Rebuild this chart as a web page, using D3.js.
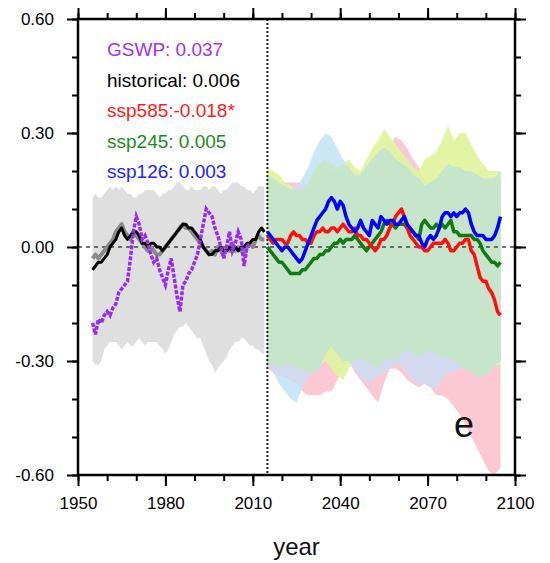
<!DOCTYPE html>
<html>
<head>
<meta charset="utf-8">
<script src="https://cdnjs.cloudflare.com/ajax/libs/d3/7.8.5/d3.min.js"></script>
<style>
body { margin: 0; background: #fff; }
svg { display: block; font-family: "Liberation Sans", Arial, Helvetica, sans-serif; }
</style>
</head>
<body>
<div id="chart"></div>
<script>
// ---- data ----
var histYears = d3.range(1955, 2015);
var gswpYears = d3.range(1955, 2010);
var futYears = d3.range(2015, 2096);
var bandYears = d3.range(2015, 2096, 2);

var gswp = [-0.20,-0.23,-0.19,-0.20,-0.18,-0.17,-0.18,-0.16,-0.15,-0.12,
  -0.11,-0.10,-0.09,-0.03,0.04,0.08,0.06,0.02,0.03,0.01,
  -0.02,-0.04,-0.03,-0.06,-0.08,-0.10,-0.06,-0.03,-0.08,-0.13,
  -0.17,-0.10,-0.09,-0.07,-0.06,-0.04,-0.02,0.02,0.06,0.10,
  0.09,0.08,0.05,0.03,0.00,-0.03,0.00,0.04,-0.01,0.01,
  0.04,0.02,-0.05,0.00,0.01];

var historical = [-0.06,-0.05,-0.04,-0.04,-0.03,-0.02,0.00,0.01,0.02,0.04,
  0.05,0.03,0.02,0.03,0.04,0.04,0.03,0.01,0.01,0.00,
  0.01,0.01,0.00,0.00,-0.01,0.00,0.01,0.02,0.03,0.04,
  0.05,0.06,0.06,0.05,0.05,0.04,0.03,0.02,0.00,-0.01,
  -0.02,-0.02,-0.01,-0.01,0.00,-0.01,-0.01,0.00,-0.01,0.00,
  -0.01,0.00,0.00,0.01,0.01,0.02,0.02,0.04,0.05,0.04];

var historicalGrey = [-0.03,-0.02,-0.03,-0.02,-0.01,0.00,0.01,0.02,0.04,0.05,
  0.06,0.04,0.03,0.02,0.04,0.03,0.02,0.01,0.00,-0.01,
  0.00,-0.01,-0.02,-0.02,-0.01,0.00,0.01,0.02,0.03,0.04,
  0.05,0.06,0.05,0.05,0.04,0.03,0.02,0.01,0.00,-0.01,
  -0.02,-0.01,-0.02,0.00,-0.01,-0.02,0.00,-0.01,0.01,-0.01,
  0.00,-0.01,-0.02,0.00,0.01,0.00,0.02,0.03,0.02,0.02];

var histTop = [0.13,0.14,0.13,0.13,0.14,0.15,0.16,0.15,0.16,0.15,
  0.16,0.15,0.14,0.14,0.13,0.13,0.14,0.14,0.15,0.15,
  0.15,0.15,0.14,0.13,0.14,0.14,0.15,0.15,0.16,0.17,
  0.17,0.16,0.15,0.15,0.16,0.15,0.15,0.15,0.16,0.16,
  0.15,0.16,0.16,0.15,0.14,0.15,0.15,0.16,0.17,0.17,
  0.17,0.16,0.16,0.15,0.15,0.14,0.15,0.16,0.16,0.16];

var histBottom = [-0.30,-0.31,-0.31,-0.30,-0.27,-0.26,-0.25,-0.25,-0.25,-0.26,
  -0.27,-0.26,-0.25,-0.26,-0.26,-0.25,-0.24,-0.25,-0.26,-0.25,
  -0.25,-0.25,-0.25,-0.26,-0.27,-0.28,-0.27,-0.25,-0.23,-0.22,
  -0.21,-0.21,-0.20,-0.21,-0.22,-0.23,-0.24,-0.24,-0.26,-0.28,
  -0.30,-0.31,-0.33,-0.32,-0.31,-0.30,-0.29,-0.27,-0.26,-0.25,
  -0.25,-0.24,-0.24,-0.25,-0.26,-0.26,-0.27,-0.27,-0.28,-0.28];

var ssp585 = [0.03,0.02,0.01,0.02,0.02,0.02,0.01,0.01,0.03,0.04,
  0.03,0.03,0.02,0.02,0.01,0.01,0.03,0.04,0.04,0.05,
  0.04,0.04,0.05,0.05,0.04,0.05,0.06,0.05,0.04,0.04,
  0.05,0.03,0.03,0.02,0.02,0.01,0.00,-0.01,0.00,0.02,
  0.02,0.03,0.05,0.06,0.08,0.09,0.10,0.08,0.05,0.03,
  0.02,0.01,0.00,0.00,-0.01,-0.01,0.00,0.01,0.01,0.01,
  0.01,0.02,0.01,-0.01,-0.01,0.00,0.01,0.01,0.02,0.02,
  -0.01,-0.02,-0.05,-0.08,-0.09,-0.09,-0.11,-0.12,-0.14,-0.17,
  -0.18];

var ssp245 = [0.00,-0.01,-0.02,-0.03,-0.04,-0.04,-0.05,-0.06,-0.07,-0.07,
  -0.07,-0.07,-0.06,-0.06,-0.05,-0.04,-0.03,-0.03,-0.02,-0.02,
  -0.01,-0.01,0.00,0.01,0.01,0.02,0.01,0.02,0.02,0.02,
  0.03,0.02,0.01,0.00,-0.01,0.00,0.01,0.02,0.03,0.04,
  0.06,0.07,0.06,0.06,0.05,0.06,0.06,0.06,0.05,0.04,
  0.04,0.03,0.02,0.06,0.07,0.06,0.05,0.05,0.06,0.05,
  0.06,0.05,0.06,0.07,0.04,0.04,0.03,0.03,0.03,0.03,
  0.03,0.02,0.02,0.01,-0.01,-0.02,-0.03,-0.04,-0.04,-0.05,
  -0.04];

var ssp126 = [0.04,0.03,0.02,0.01,0.00,-0.01,0.00,0.00,-0.01,-0.02,
  -0.03,-0.04,-0.03,-0.01,0.01,0.03,0.05,0.07,0.08,0.09,
  0.10,0.12,0.13,0.12,0.10,0.12,0.11,0.08,0.06,0.05,
  0.04,0.05,0.07,0.05,0.04,0.03,0.07,0.06,0.05,0.08,
  0.07,0.06,0.07,0.07,0.06,0.06,0.07,0.08,0.06,0.05,
  0.04,0.03,0.03,0.01,0.00,0.02,0.03,0.02,0.03,0.05,
  0.08,0.09,0.09,0.08,0.09,0.08,0.09,0.09,0.10,0.09,
  0.06,0.04,0.03,0.03,0.03,0.02,0.02,0.02,0.03,0.05,
  0.08];

// spread bands, every second year 2015..2095
var top585 = [0.18,0.17,0.16,0.17,0.17,0.17,0.17,0.16,0.18,0.20,
  0.21,0.20,0.19,0.20,0.19,0.18,0.19,0.21,0.23,0.25,
  0.26,0.27,0.29,0.28,0.26,0.23,0.21,0.18,0.17,0.18,
  0.19,0.21,0.20,0.21,0.20,0.19,0.19,0.18,0.17,0.17,0.18];
var bot585 = [-0.32,-0.33,-0.34,-0.34,-0.35,-0.36,-0.38,-0.39,-0.39,-0.39,
  -0.38,-0.38,-0.35,-0.32,-0.30,-0.33,-0.35,-0.37,-0.39,-0.41,
  -0.36,-0.32,-0.32,-0.33,-0.35,-0.36,-0.37,-0.36,-0.37,-0.39,
  -0.39,-0.40,-0.42,-0.44,-0.47,-0.50,-0.53,-0.56,-0.59,-0.60,-0.58];
var top245 = [0.21,0.20,0.19,0.17,0.16,0.15,0.15,0.17,0.20,0.22,
  0.23,0.22,0.21,0.22,0.23,0.21,0.20,0.23,0.26,0.28,
  0.31,0.29,0.27,0.25,0.23,0.21,0.20,0.23,0.24,0.25,
  0.28,0.32,0.28,0.30,0.30,0.27,0.24,0.22,0.20,0.20,0.20];
var bot245 = [-0.31,-0.31,-0.32,-0.31,-0.31,-0.32,-0.32,-0.33,-0.33,-0.31,
  -0.30,-0.32,-0.34,-0.35,-0.32,-0.30,-0.29,-0.30,-0.31,-0.32,
  -0.30,-0.29,-0.30,-0.28,-0.27,-0.28,-0.29,-0.28,-0.27,-0.28,
  -0.29,-0.29,-0.30,-0.31,-0.32,-0.33,-0.34,-0.34,-0.33,-0.31,-0.31];
var top126 = [0.19,0.18,0.17,0.16,0.15,0.16,0.18,0.21,0.25,0.28,
  0.30,0.29,0.26,0.23,0.21,0.19,0.19,0.21,0.23,0.25,
  0.26,0.25,0.23,0.22,0.21,0.19,0.18,0.16,0.17,0.18,
  0.20,0.22,0.21,0.21,0.20,0.20,0.19,0.18,0.18,0.18,0.20];
var bot126 = [-0.31,-0.33,-0.36,-0.38,-0.40,-0.41,-0.37,-0.34,-0.33,-0.32,
  -0.28,-0.26,-0.28,-0.30,-0.30,-0.32,-0.34,-0.36,-0.35,-0.34,
  -0.33,-0.32,-0.31,-0.31,-0.33,-0.35,-0.36,-0.36,-0.37,-0.37,
  -0.35,-0.33,-0.33,-0.32,-0.32,-0.33,-0.34,-0.34,-0.33,-0.31,-0.30];

var legendLabels = ["GSWP: 0.037", "historical: 0.006", "ssp585:-0.018*", "ssp245: 0.005", "ssp126: 0.003"];
var legendColors = ["#a033ee", "#000000", "#ff1a1a", "#1f8a1f", "#2424ff"];

var xTicks = d3.range(1950, 2101, 30);
var xMinor = d3.range(1950, 2101, 10);
var yTicks = [-0.6, -0.3, 0, 0.3, 0.6];
var yMinor = d3.range(-6, 7).map(function(d) { return d / 10; });

// ---- drawing ----
var W = 550, H = 563;
var L = 78, R = 515, T = 19, B = 475;

var svg = d3.select("#chart").append("svg").attr("width", W).attr("height", H);

var x = d3.scaleLinear().domain([1950, 2100]).range([L, R]);
var y = d3.scaleLinear().domain([-0.6, 0.6]).range([B, T]);

// plain hyphen for negatives, like the original
var fmt = d3.formatLocale({decimal: ".", thousands: ",", grouping: [3], currency: ["", ""], minus: "-"});

svg.append("clipPath").attr("id", "clip")
  .append("rect").attr("x", L).attr("y", T).attr("width", R - L).attr("height", B - T);
var plot = svg.append("g").attr("clip-path", "url(#clip)");

// historical spread
var histBand = histYears.map(function(yr, i) { return {yr: yr, lo: histBottom[i], hi: histTop[i]}; });
var area = d3.area()
  .x(function(d) { return x(d.yr); })
  .y0(function(d) { return y(d.lo); })
  .y1(function(d) { return y(d.hi); })
  .defined(function(d) { return d.hi > d.lo; });
plot.append("path").datum(histBand).attr("d", area).attr("fill", "#dfdfdf");

// future spreads: single bands, then their overlaps
var bands = [
  {lo: bot585, hi: top585},
  {lo: bot245, hi: top245},
  {lo: bot126, hi: top126}
];
var layers = [
  {ids: [0], color: "#fbc8d3"},
  {ids: [1], color: "#e3f4a4"},
  {ids: [2], color: "#cbe7f6"},
  {ids: [0, 1], color: "#e0f0a6"},
  {ids: [0, 2], color: "#d3d9ef"},
  {ids: [1, 2], color: "#c8e6cc"},
  {ids: [0, 1, 2], color: "#c6e5cb"}
];
layers.forEach(function(layer) {
  var pts = bandYears.map(function(yr, i) {
    return {
      yr: yr,
      lo: d3.max(layer.ids, function(k) { return bands[k].lo[i]; }),
      hi: d3.min(layer.ids, function(k) { return bands[k].hi[i]; })
    };
  });
  plot.append("path").datum(pts).attr("d", area).attr("fill", layer.color);
});

// reference lines
plot.append("line")
  .attr("x1", L).attr("x2", R).attr("y1", y(0)).attr("y2", y(0))
  .attr("stroke", "#444").attr("stroke-width", 1.5).attr("stroke-dasharray", "4,4");
plot.append("line")
  .attr("x1", x(2015)).attr("x2", x(2015)).attr("y1", T).attr("y2", B)
  .attr("stroke", "#222").attr("stroke-width", 2).attr("stroke-dasharray", "2,2");

var line = d3.line()
  .x(function(d) { return x(d[0]); })
  .y(function(d) { return y(d[1]); });
function series(years, vals) { return years.map(function(yr, i) { return [yr, vals[i]]; }); }

plot.append("path").datum(series(histYears, historicalGrey)).attr("d", line)
  .attr("fill", "none").attr("stroke", "#8a8a8a").attr("stroke-width", 4).attr("stroke-linejoin", "round");
plot.append("path").datum(series(histYears, historical)).attr("d", line)
  .attr("fill", "none").attr("stroke", "#000").attr("stroke-width", 3).attr("stroke-linejoin", "round");
plot.append("path").datum(series(gswpYears, gswp)).attr("d", line)
  .attr("fill", "none").attr("stroke", "#9a2cf0").attr("stroke-width", 3.5).attr("stroke-dasharray", "4,1.5");

[[ssp245, "#127a12"], [ssp585, "#ff1010"], [ssp126, "#0000ff"]].forEach(function(s) {
  plot.append("path").datum(series(futYears, s[0])).attr("d", line)
    .attr("fill", "none").attr("stroke", s[1]).attr("stroke-width", 3.5).attr("stroke-linejoin", "round");
});

// frame and ticks (outward on all four sides)
svg.append("rect").attr("x", L).attr("y", T).attr("width", R - L).attr("height", B - T)
  .attr("fill", "none").attr("stroke", "#000").attr("stroke-width", 2.5);

function axisGroup(axis, tx, ty) {
  var g = svg.append("g").attr("transform", "translate(" + tx + "," + ty + ")").call(axis);
  g.select(".domain").remove();
  g.selectAll(".tick line").attr("stroke", "#000").attr("stroke-width", 2);
  g.selectAll("text").attr("fill", "#000").style("font-size", "17px");
  return g;
}
axisGroup(d3.axisBottom(x).tickValues(xMinor).tickSize(6).tickFormat(""), 0, B);
axisGroup(d3.axisTop(x).tickValues(xMinor).tickSize(6).tickFormat(""), 0, T);
axisGroup(d3.axisLeft(y).tickValues(yMinor).tickSize(6).tickFormat(""), L, 0);
axisGroup(d3.axisRight(y).tickValues(yMinor).tickSize(6).tickFormat(""), R, 0);
axisGroup(d3.axisBottom(x).tickValues(xTicks).tickSize(11).tickPadding(11).tickFormat(d3.format("d")), 0, B);
axisGroup(d3.axisTop(x).tickValues(xTicks).tickSize(11).tickFormat(""), 0, T);
axisGroup(d3.axisLeft(y).tickValues(yTicks).tickSize(11).tickPadding(13).tickFormat(fmt.format(".2f")), L, 0);
axisGroup(d3.axisRight(y).tickValues(yTicks).tickSize(11).tickFormat(""), R, 0);

svg.append("text").attr("x", (L + R) / 2).attr("y", 555).attr("text-anchor", "middle")
  .style("font-size", "24px").attr("fill", "#111").text("year");

svg.append("text").attr("x", 464).attr("y", 437).attr("text-anchor", "middle")
  .style("font-size", "36px").attr("fill", "#111").text("e");

svg.append("g").selectAll("text").data(legendLabels).enter().append("text")
  .attr("x", 107)
  .attr("y", function(d, i) { return 56 + i * 30.5; })
  .attr("fill", function(d, i) { return legendColors[i]; })
  .style("font-size", "19px")
  .text(function(d) { return d; });
</script>
</body>
</html>
